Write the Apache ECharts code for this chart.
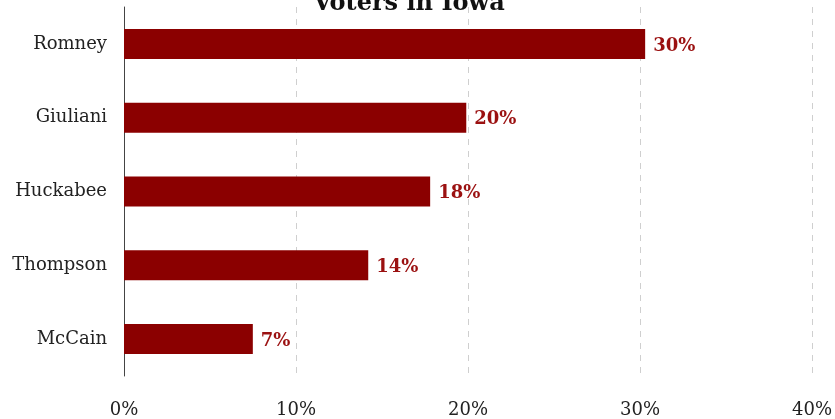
<!DOCTYPE html>
<html>
<head>
<meta charset="utf-8">
<script src="https://cdn.jsdelivr.net/npm/echarts@6/dist/echarts.min.js"></script>
<style>
  html, body { margin: 0; padding: 0; background: #fff; }
  #chart { width: 835px; height: 419px; }
</style>
</head>
<body>
<div id="chart"></div>
<script>
// Republican candidate support among likely caucus voters
const candidates = ['Romney', 'Giuliani', 'Huckabee', 'Thompson', 'McCain'];
const support = [30.3, 19.9, 17.8, 14.2, 7.49];
const tickValues = [0, 10, 20, 30, 40];

const serif = '"DejaVu Serif", "Liberation Serif", serif';
const chart = echarts.init(document.getElementById('chart'));

chart.setOption({
  animation: false,
  title: {
    text: 'Voters in Iowa',
    left: 404,
    textAlign: 'center',
    top: -13,
    textStyle: { fontFamily: serif, fontWeight: 'bold', fontSize: 24, color: '#111' }
  },
  grid: { left: 124, right: 23, top: 7, bottom: 43, containLabel: false },
  xAxis: {
    type: 'value',
    min: tickValues[0],
    max: tickValues[tickValues.length - 1],
    interval: 10,
    axisLine: { show: false },
    axisTick: { show: false },
    axisLabel: {
      formatter: v => v + '%',
      fontFamily: serif, fontSize: 18, color: '#222', margin: 25
    },
    splitLine: {
      show: true,
      lineStyle: { color: '#cfcfcf', type: [6, 6], width: 1 }
    }
  },
  yAxis: {
    type: 'category',
    data: candidates,
    inverse: true,
    axisLine: { show: true, lineStyle: { color: '#444', width: 1 } },
    axisTick: { show: false },
    axisLabel: { fontFamily: serif, fontSize: 18, color: '#222', margin: 17 }
  },
  series: [{
    type: 'bar',
    data: support,
    barWidth: 30,
    itemStyle: { color: '#8b0000' },
    label: {
      show: true,
      position: 'right',
      distance: 8,
      offset: [0, 2],
      formatter: p => Math.round(p.value) + '%',
      fontFamily: serif, fontWeight: 'bold', fontSize: 18, color: '#9b1111'
    }
  }]
});
</script>
</body>
</html>
